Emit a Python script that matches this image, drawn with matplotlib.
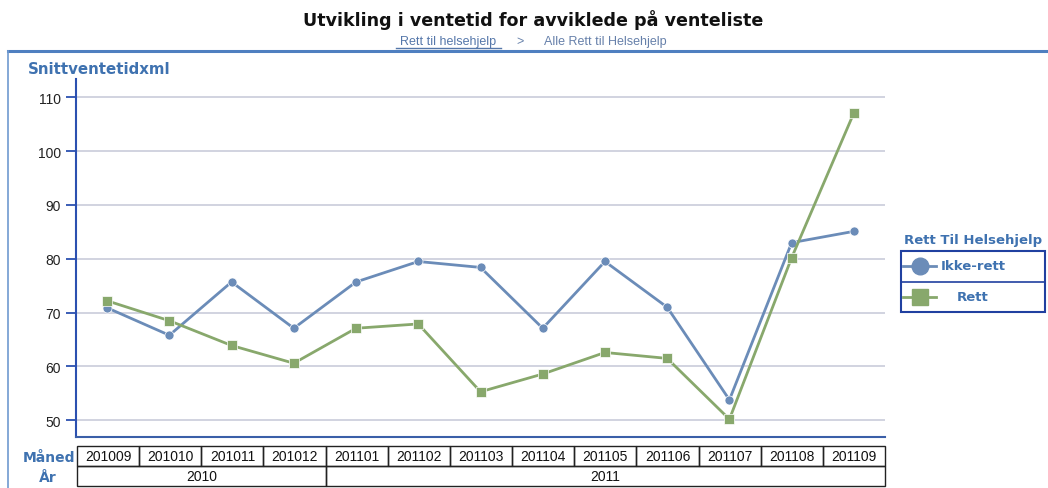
import matplotlib
matplotlib.use("Agg")
import matplotlib.pyplot as plt
from matplotlib.patches import Rectangle
from matplotlib.lines import Line2D

months = ["201009", "201010", "201011", "201012", "201101", "201102", "201103",
          "201104", "201105", "201106", "201107", "201108", "201109"]
ikke_rett = [70.9, 65.8, 75.7, 67.1, 75.7, 79.5, 78.4, 67.1, 79.5, 71.0, 53.8, 83.0, 85.1]
rett = [72.2, 68.5, 63.9, 60.6, 67.1, 67.9, 55.3, 58.6, 62.6, 61.5, 50.2, 80.2, 107.1]
yticks = [50, 60, 70, 80, 90, 100, 110]
series_names = ["Ikke-rett", "Rett"]

W, H = 1048, 489
fig = plt.figure(figsize=(W / 100, H / 100), dpi=100)
fig.patch.set_facecolor("white")

def fx(px):
    return px / W

def fy(py):
    return 1 - py / H

BLUE_LINE = "#6b8cb8"
GREEN_LINE = "#88a86c"
AXIS_BLUE = "#2b50b0"
LABEL_BLUE = "#3f72b0"
FONT = "Liberation Sans"

# Titles
fig.text(fx(533), fy(20), "Utvikling i ventetid for avviklede på venteliste",
         ha="center", va="center", fontsize=12.6, family="DejaVu Sans", weight="bold",
         color="#111111")
fig.text(fx(448), fy(42), "Rett til helsehjelp", ha="center", va="center",
         fontsize=9, family=FONT, color="#5577aa")
fig.add_artist(Line2D([fx(396), fx(501)], [fy(48.5), fy(48.5)], color="#5577aa", lw=1))
fig.text(fx(520), fy(42), ">", ha="center", va="center", fontsize=9, family=FONT, color="#6680aa")
fig.text(fx(605), fy(42), "Alle Rett til Helsehjelp", ha="center", va="center",
         fontsize=9, family=FONT, color="#6680aa")

# Outer frame lines
fig.add_artist(Line2D([fx(8), fx(1048)], [fy(52), fy(52)], color="#4f7fc0", lw=2.2))
fig.add_artist(Line2D([fx(8), fx(8)], [fy(52), fy(489)], color="#6f9ad0", lw=1.2))

fig.text(fx(28), fy(69), "Snittventetidxml", ha="left", va="center", fontsize=10.8,
         family="DejaVu Sans", weight="bold", color=LABEL_BLUE)

# Main axes
ax = fig.add_axes([fx(76), fy(438), fx(885) - fx(76), fy(80) - fy(438)])
x = list(range(len(months)))
ax.set_xlim(-0.5, len(months) - 0.5)
ax.set_ylim(46.9, 113.4)
ax.set_yticks(yticks)
ax.set_yticklabels([str(v) for v in yticks], fontsize=10, family=FONT, color="#222222")
ax.set_xticks([])
for s in ["top", "right"]:
    ax.spines[s].set_visible(False)
ax.spines["left"].set_color(AXIS_BLUE)
ax.spines["left"].set_linewidth(1.5)
ax.spines["bottom"].set_color("#3a5fa8")
ax.spines["bottom"].set_linewidth(1.5)
ax.tick_params(axis="y", colors=AXIS_BLUE, length=7, width=1.3, labelcolor="#222222", pad=4)
ax.grid(axis="y", color="#c9ccda", lw=1.2)
ax.set_axisbelow(True)

ax.plot(x, ikke_rett, color=BLUE_LINE, lw=2, marker="o", ms=6.5, mec="white", mew=0.5, zorder=3)
ax.plot(x, rett, color=GREEN_LINE, lw=2, marker="s", ms=7, mec="white", mew=0.5, zorder=4)

# Table axes
tax = fig.add_axes([fx(77), fy(487), fx(885) - fx(77), fy(447) - fy(487)])
tax.set_xlim(-0.5, len(months) - 0.5)
tax.set_ylim(0, 2)
tax.axis("off")
for i, m in enumerate(months):
    tax.add_patch(Rectangle((i - 0.5, 1), 1, 1, fill=False, ec="#222222", lw=1, clip_on=False))
    tax.text(i, 1.5, m, ha="center", va="center", fontsize=10, family=FONT, color="#111111")
years = []
for i, m in enumerate(months):
    y = m[:4]
    if years and years[-1][0] == y:
        years[-1][2] = i
    else:
        years.append([y, i, i])
for y, a, b in years:
    tax.add_patch(Rectangle((a - 0.5, 0), b - a + 1, 1, fill=False, ec="#222222", lw=1, clip_on=False))
    tax.text((a + b) / 2, 0.5, y, ha="center", va="center", fontsize=10, family=FONT, color="#111111")

fig.text(fx(75), fy(458), "Måned", ha="right", va="center", fontsize=10, family="DejaVu Sans",
         weight="bold", color=LABEL_BLUE)
fig.text(fx(48), fy(478), "År", ha="center", va="center", fontsize=10, family="DejaVu Sans",
         weight="bold", color=LABEL_BLUE)

# Legend
fig.text(fx(973), fy(241), "Rett Til Helsehjelp", ha="center", va="center", fontsize=9.5,
         family="DejaVu Sans", weight="bold", color=LABEL_BLUE)
lax = fig.add_axes([fx(901), fy(313), fx(1045) - fx(901), fy(252) - fy(313)])
lax.set_xlim(0, 144)
lax.set_ylim(61, 0)
lax.axis("off")
lax.add_patch(Rectangle((0, 0), 144, 61, fill=False, ec="#2040a0", lw=1.5, clip_on=False))
lax.plot([0, 144], [30.5, 30.5], color="#2040a0", lw=1.2)
lax.plot([2, 35], [15, 15], color=BLUE_LINE, lw=2)
lax.plot([19], [15], marker="o", ms=12, color=BLUE_LINE, mec=BLUE_LINE)
lax.plot([2, 35], [45.5, 45.5], color=GREEN_LINE, lw=2)
lax.plot([19], [45.5], marker="s", ms=12, color=GREEN_LINE, mec=GREEN_LINE)
lax.text(40, 15, series_names[0], ha="left", va="center", fontsize=9.5, family="DejaVu Sans",
         weight="bold", color=LABEL_BLUE)
lax.text(56, 45.5, series_names[1], ha="left", va="center", fontsize=9.5, family="DejaVu Sans",
         weight="bold", color=LABEL_BLUE)

fig.savefig("out.png", dpi=100, facecolor="white")
